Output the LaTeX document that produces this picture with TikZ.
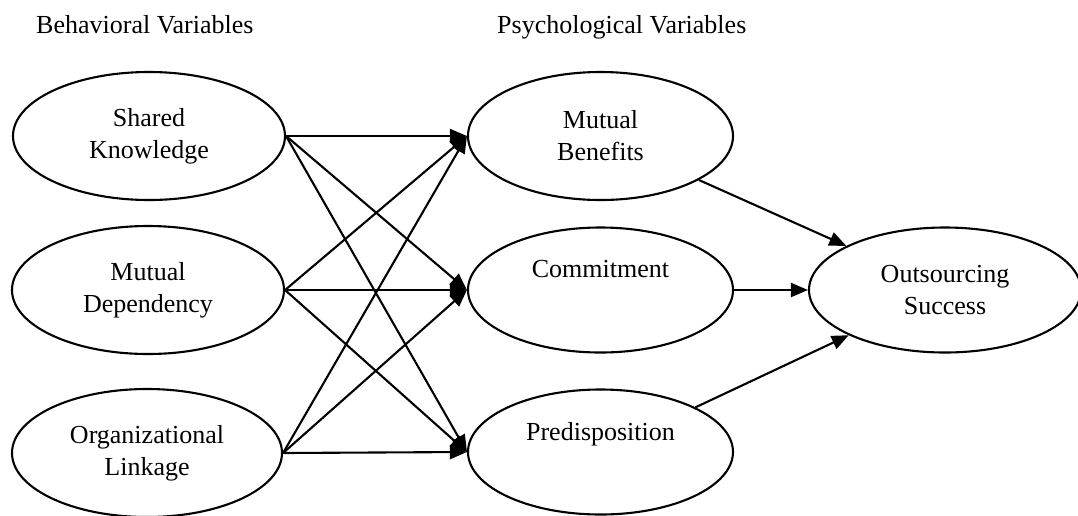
\documentclass[tikz,border=0pt]{standalone}
\usepackage{fontspec}
\setmainfont{Liberation Serif}
\usetikzlibrary{shapes.geometric,arrows.meta}
\begin{document}
\begin{tikzpicture}[x=1pt,y=-1pt,
  var/.style={draw, ellipse, line width=2.1pt, inner sep=0pt, minimum width=272pt, minimum height=128pt, align=center, font=\fontsize{26}{32}\selectfont},
  link/.style={line width=2.1pt, -{Triangle[length=17pt,width=14pt]}},
  heading/.style={anchor=base west, inner sep=0pt, font=\fontsize{26}{32}\selectfont}]
\useasboundingbox (0,0) rectangle (1078,515);

\node[heading] (h1) at (36,33) {Behavioral Variables};
\node[heading] (h2) at (497,33) {Psychological Variables};

\node[var] (sk) at (149,136) {Shared\\Knowledge};
\node[var] (md) at (148,290) {Mutual\\Dependency};
\node[var, minimum width=270pt] (ol) at (147,453) {Organizational\\Linkage};

\node[var, minimum width=265pt] (mb) at (600.5,136) {Mutual\\Benefits};
\node[var, minimum width=265pt, minimum height=125pt] (cm) at (600.5,290) {Commitment\\\strut};
\node[var, minimum width=265pt, minimum height=125pt] (pr) at (600.5,452) {Predisposition\\\strut};

\node[var, minimum height=125pt] (os) at (945,290) {Outsourcing\\Success};

\foreach \s in {sk,md,ol}{
  \foreach \t in {mb,cm,pr}{
    \draw[link] (\s.east) -- (\t.west);
  }
}
\draw[link] (mb) -- (os);
\draw[link] (cm.east) -- (os.west);
\draw[link] (pr) -- (os);
\end{tikzpicture}
\end{document}
